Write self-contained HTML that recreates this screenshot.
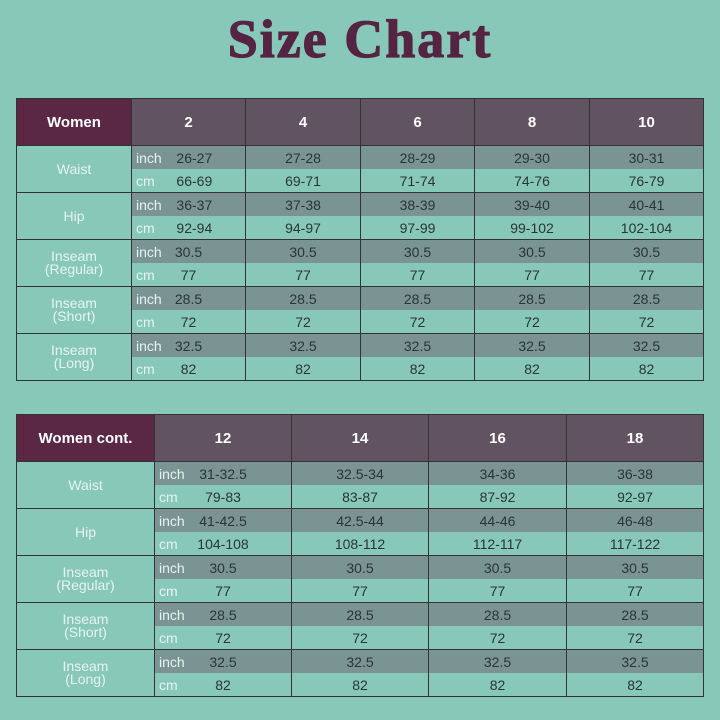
<!DOCTYPE html>
<html><head><style>
body{margin:0;width:720px;height:720px;background:#87c8b9;font-family:"Liberation Sans",sans-serif;position:relative;overflow:hidden}
h1{position:absolute;top:8px;left:0;width:720px;margin:0;text-align:center;font:bold 54px "Liberation Serif",serif;color:#552442;letter-spacing:2px;-webkit-text-stroke:1.2px #552442}
table{position:absolute;left:16px;border-collapse:collapse;table-layout:fixed;width:687px}
td{border-left:1px solid #333;border-right:1px solid #333;padding:0;text-align:center;font-size:14px;color:#2a3535;position:relative}
tr.h td{height:46px;background:#625363;color:#fff;font-weight:bold;font-size:15px;border:1px solid #333}
tr.h td.f{background:#5a2845}
td.l{color:#e6f4f0;font-size:14px;line-height:13px;border-bottom:1px solid #333;background:#87c8b9}
tr.i td{background:#7a9493;height:23px}
tr.c td{background:#87c8b9;height:23px;border-bottom:1px solid #333}
tr.i td.l,tr.c td.l{background:#87c8b9}
span.u{position:absolute;left:4px;top:4px;color:#e6f4f0}
</style></head><body>
<h1>Size Chart</h1>
<table style="top:98px">
<colgroup><col style="width:115px"><col style="width:114px"><col style="width:115px"><col style="width:114px"><col style="width:115px"><col style="width:114px"></colgroup>
<tr class="h"><td class="f">Women</td><td>2</td><td>4</td><td>6</td><td>8</td><td>10</td></tr>
<tr class="i"><td class="l" rowspan="2">Waist</td><td><span class="u">inch</span>&nbsp;&nbsp;&nbsp;26-27</td><td>27-28</td><td>28-29</td><td>29-30</td><td>30-31</td></tr>
<tr class="c"><td><span class="u">cm</span>&nbsp;&nbsp;&nbsp;66-69</td><td>69-71</td><td>71-74</td><td>74-76</td><td>76-79</td></tr>
<tr class="i"><td class="l" rowspan="2">Hip</td><td><span class="u">inch</span>&nbsp;&nbsp;&nbsp;36-37</td><td>37-38</td><td>38-39</td><td>39-40</td><td>40-41</td></tr>
<tr class="c"><td><span class="u">cm</span>&nbsp;&nbsp;&nbsp;92-94</td><td>94-97</td><td>97-99</td><td>99-102</td><td>102-104</td></tr>
<tr class="i"><td class="l" rowspan="2">Inseam<br>(Regular)</td><td><span class="u">inch</span>30.5</td><td>30.5</td><td>30.5</td><td>30.5</td><td>30.5</td></tr>
<tr class="c"><td><span class="u">cm</span>77</td><td>77</td><td>77</td><td>77</td><td>77</td></tr>
<tr class="i"><td class="l" rowspan="2">Inseam<br>(Short)</td><td><span class="u">inch</span>28.5</td><td>28.5</td><td>28.5</td><td>28.5</td><td>28.5</td></tr>
<tr class="c"><td><span class="u">cm</span>72</td><td>72</td><td>72</td><td>72</td><td>72</td></tr>
<tr class="i"><td class="l" rowspan="2">Inseam<br>(Long)</td><td><span class="u">inch</span>32.5</td><td>32.5</td><td>32.5</td><td>32.5</td><td>32.5</td></tr>
<tr class="c"><td><span class="u">cm</span>82</td><td>82</td><td>82</td><td>82</td><td>82</td></tr>
</table>
<table style="top:414px">
<colgroup><col style="width:138px"><col style="width:137px"><col style="width:137px"><col style="width:138px"><col style="width:137px"></colgroup>
<tr class="h"><td class="f">Women cont.</td><td>12</td><td>14</td><td>16</td><td>18</td></tr>
<tr class="i"><td class="l" rowspan="2">Waist</td><td><span class="u">inch</span>31-32.5</td><td>32.5-34</td><td>34-36</td><td>36-38</td></tr>
<tr class="c"><td><span class="u">cm</span>79-83</td><td>83-87</td><td>87-92</td><td>92-97</td></tr>
<tr class="i"><td class="l" rowspan="2">Hip</td><td><span class="u">inch</span>41-42.5</td><td>42.5-44</td><td>44-46</td><td>46-48</td></tr>
<tr class="c"><td><span class="u">cm</span>104-108</td><td>108-112</td><td>112-117</td><td>117-122</td></tr>
<tr class="i"><td class="l" rowspan="2">Inseam<br>(Regular)</td><td><span class="u">inch</span>30.5</td><td>30.5</td><td>30.5</td><td>30.5</td></tr>
<tr class="c"><td><span class="u">cm</span>77</td><td>77</td><td>77</td><td>77</td></tr>
<tr class="i"><td class="l" rowspan="2">Inseam<br>(Short)</td><td><span class="u">inch</span>28.5</td><td>28.5</td><td>28.5</td><td>28.5</td></tr>
<tr class="c"><td><span class="u">cm</span>72</td><td>72</td><td>72</td><td>72</td></tr>
<tr class="i"><td class="l" rowspan="2">Inseam<br>(Long)</td><td><span class="u">inch</span>32.5</td><td>32.5</td><td>32.5</td><td>32.5</td></tr>
<tr class="c"><td><span class="u">cm</span>82</td><td>82</td><td>82</td><td>82</td></tr>
</table>
</body></html>
